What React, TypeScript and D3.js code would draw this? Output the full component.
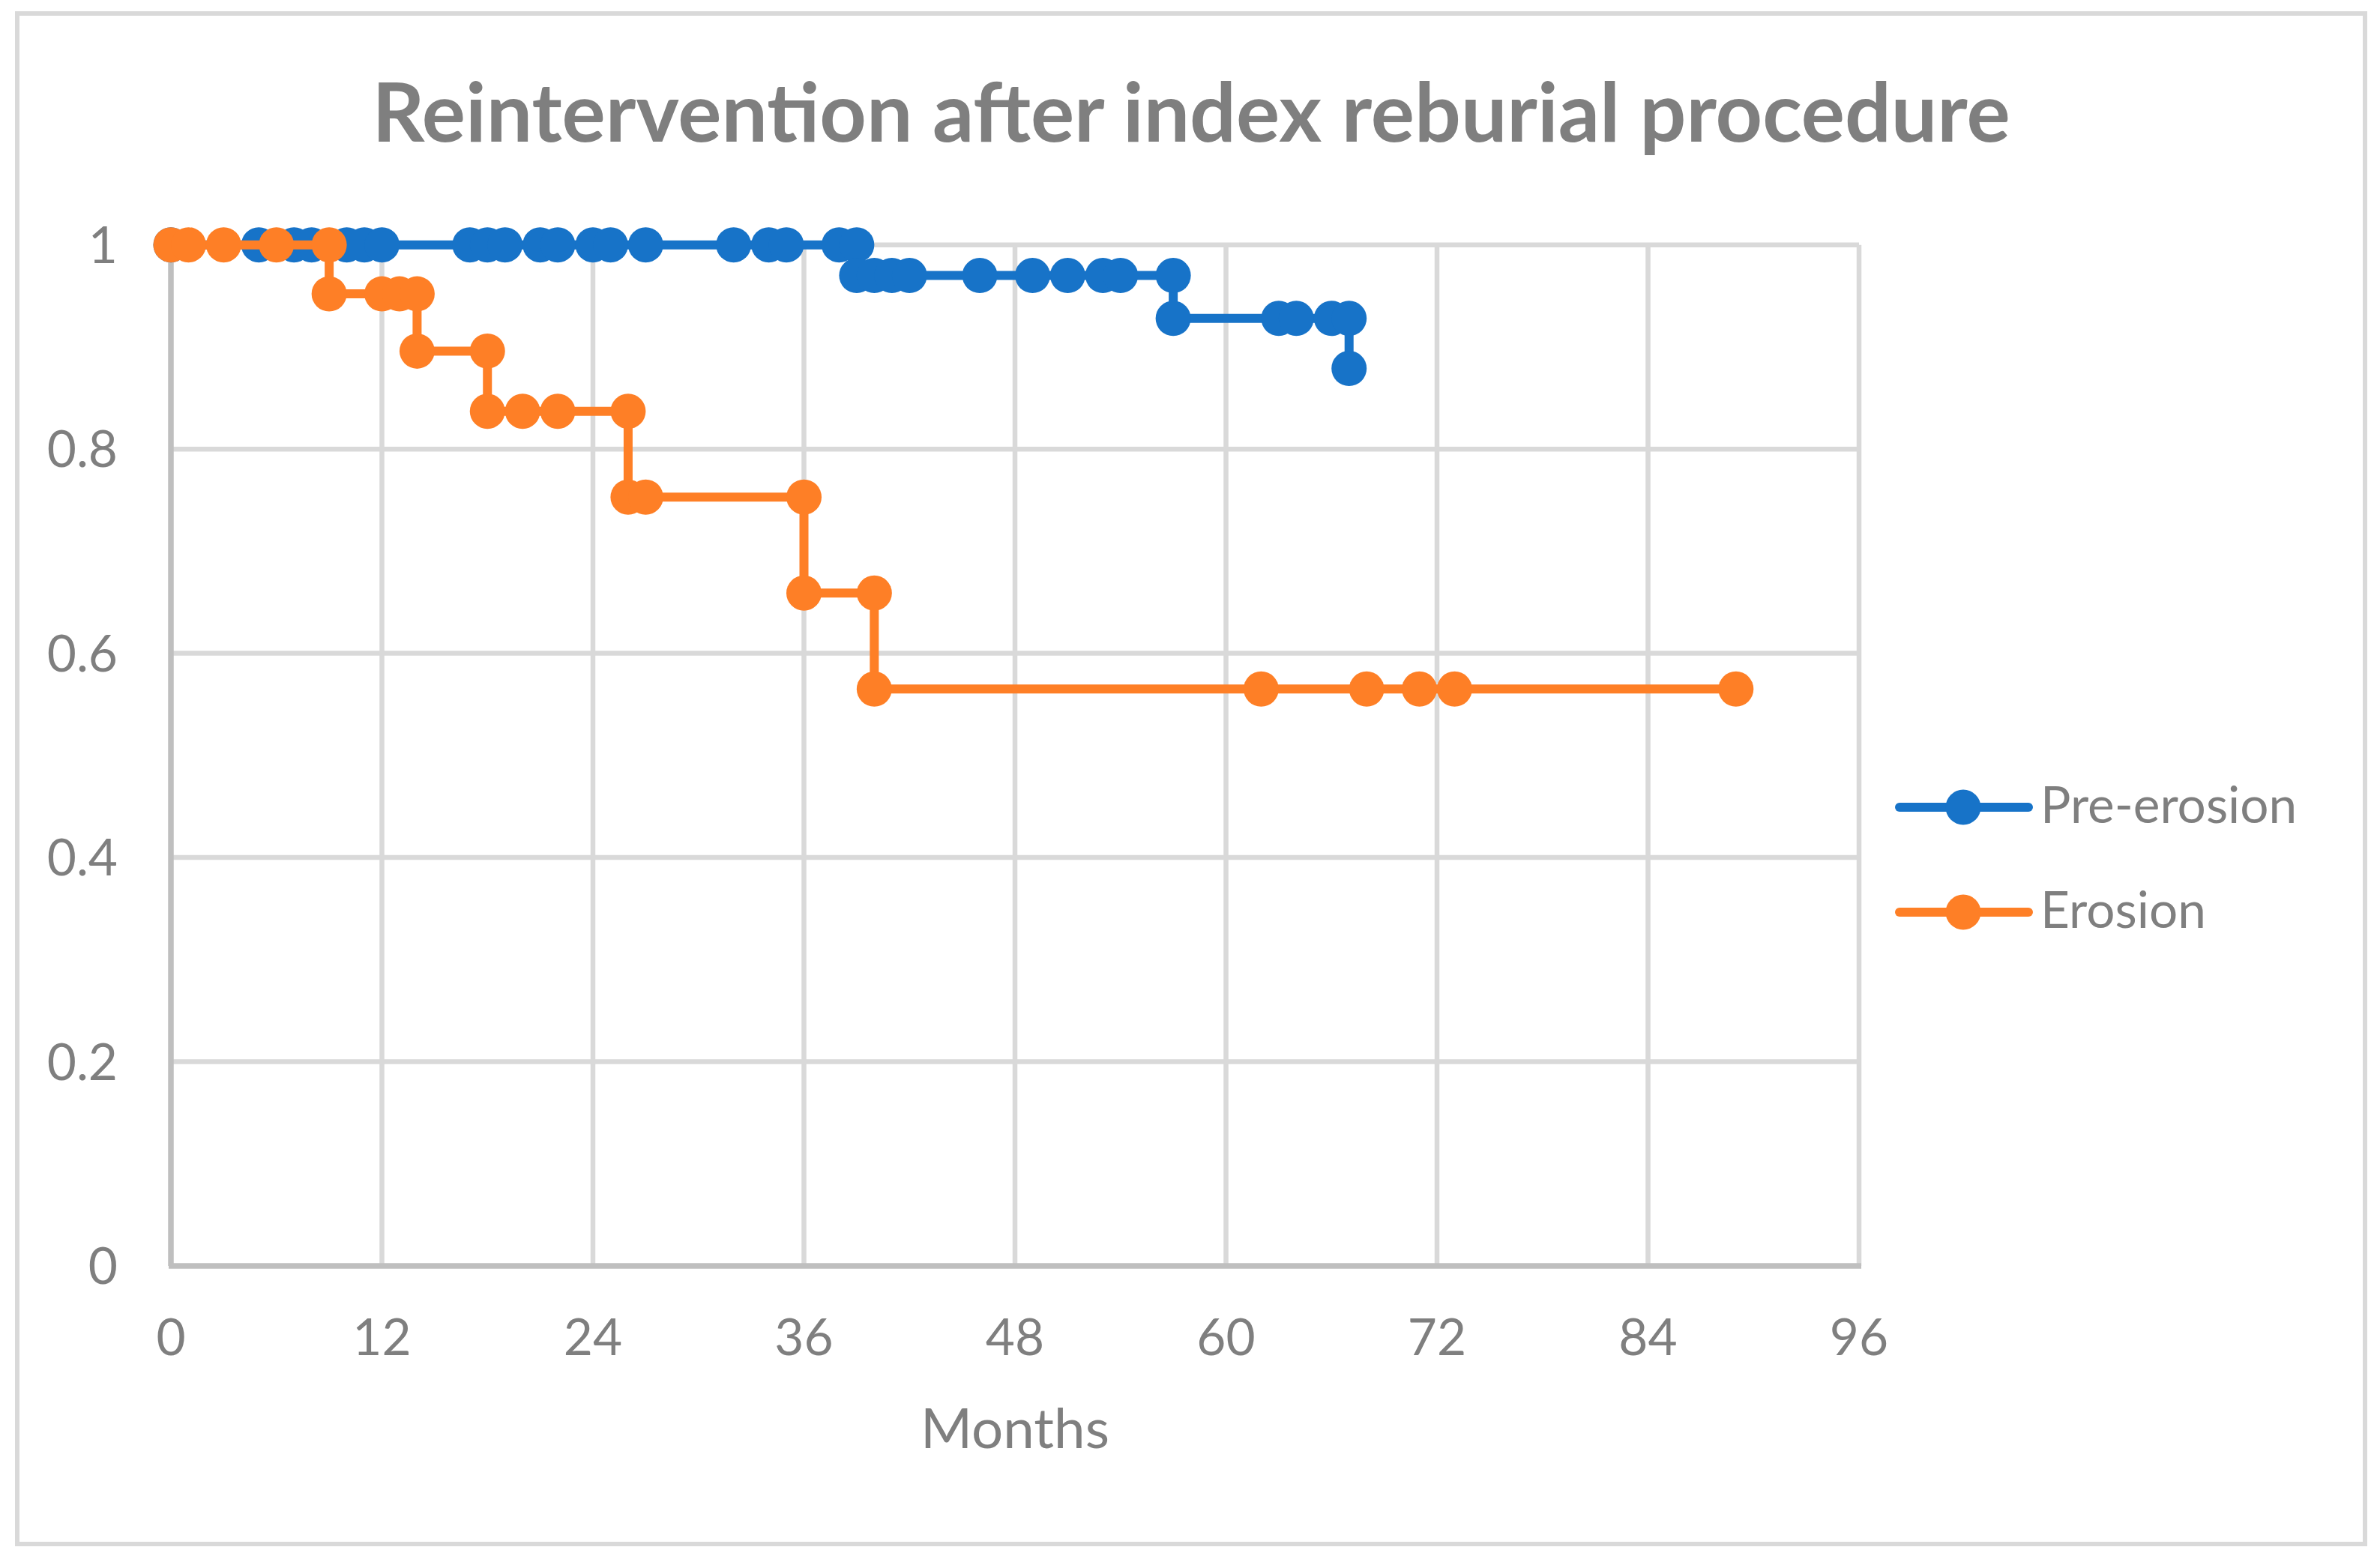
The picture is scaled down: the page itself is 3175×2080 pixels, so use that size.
import React from "react";
import * as d3 from "d3";

// ---- Data ----
const title = "Reintervention after index reburial procedure";
const xAxisTitle = "Months";
const xTicks = [0, 12, 24, 36, 48, 60, 72, 84, 96];
const yTicks = [0, 0.2, 0.4, 0.6, 0.8, 1];
const yTickLabels = ["0", "0.2", "0.4", "0.6", "0.8", "1"];

const seriesNames = ["Pre-erosion", "Erosion"];
const seriesColors = ["#1773C8", "#FE7F26"];

const preMonths = [0, 5, 7, 8, 10, 11, 12, 17, 18, 19, 21, 22, 24, 25, 27, 32, 34, 35, 38, 39,
  39, 40, 41, 42, 46, 49, 51, 53, 54, 57,
  57, 63, 64, 66, 67,
  67];
const preSurvival = [1, 1, 1, 1, 1, 1, 1, 1, 1, 1, 1, 1, 1, 1, 1, 1, 1, 1, 1, 1,
  0.970, 0.970, 0.970, 0.970, 0.970, 0.970, 0.970, 0.970, 0.970, 0.970,
  0.928, 0.928, 0.928, 0.928, 0.928,
  0.879];

const erosionMonths = [0, 1, 3, 6, 9,
  9, 12, 13, 14,
  14, 18,
  18, 20, 22, 26,
  26, 27, 36,
  36, 40,
  40, 62, 68, 71, 73, 89];
const erosionSurvival = [1, 1, 1, 1, 1,
  0.952, 0.952, 0.952, 0.952,
  0.896, 0.896,
  0.837, 0.837, 0.837, 0.837,
  0.753, 0.753, 0.753,
  0.659, 0.659,
  0.565, 0.565, 0.565, 0.565, 0.565, 0.565];

const W = 3175;
const H = 2080;
const FONT = "Lato, 'Open Sans', sans-serif";
const TEXT = "#7F7F7F";

export default function App() {
  const x = d3.scaleLinear().domain([0, 96]).range([228, 2480]);
  const y = d3.scaleLinear().domain([0, 1]).range([1689, 326.7]);

  const series = [
    { name: seriesNames[0], color: seriesColors[0], pts: preMonths.map((m, i) => [m, preSurvival[i]] as [number, number]) },
    { name: seriesNames[1], color: seriesColors[1], pts: erosionMonths.map((m, i) => [m, erosionSurvival[i]] as [number, number]) },
  ];
  const line = d3.line<[number, number]>().x((d) => x(d[0])).y((d) => y(d[1]));
  const r = 23.5;
  const lw = 12;

  const legendY = [1077, 1217];

  return (
    <svg width={W} height={H} style={{ position: "absolute", left: 0, top: 0, background: "#fff" }}>
      <rect x={0} y={0} width={W} height={H} fill="#fff" />
      <rect x={23} y={18} width={3132} height={2042} fill="#fff" stroke="#D9D9D9" strokeWidth={6} />
      <text x={1589} y={189} textAnchor="middle" fontFamily={FONT} fontWeight={700} fontSize={109} fill={TEXT}>
        {title}
      </text>

      {/* gridlines */}
      {yTicks.filter((t) => t > 0).map((t) => (
        <line key={"hy" + t} x1={x(0)} x2={x(96)} y1={y(t)} y2={y(t)} stroke="#D9D9D9" strokeWidth={6.5} />
      ))}
      {xTicks.filter((t) => t > 0).map((t) => (
        <line key={"vx" + t} x1={x(t)} x2={x(t)} y1={y(1)} y2={y(0)} stroke="#D9D9D9" strokeWidth={6.5} />
      ))}
      {/* axes */}
      <line x1={x(0)} x2={x(0)} y1={y(1)} y2={y(0)} stroke="#BFBFBF" strokeWidth={7.5} />
      <line x1={x(0) - 3} x2={x(96) + 3} y1={y(0)} y2={y(0)} stroke="#BFBFBF" strokeWidth={7.5} />

      {/* tick labels */}
      {yTicks.map((t, i) => (
        <text key={"yl" + t} x={157} y={y(t) + 24} textAnchor="end" fontFamily={FONT} fontSize={67.5} fill={TEXT}>
          {yTickLabels[i]}
        </text>
      ))}
      {xTicks.map((t) => (
        <text key={"xl" + t} x={x(t)} y={1808} textAnchor="middle" fontFamily={FONT} fontSize={67.5} fill={TEXT}>
          {String(t)}
        </text>
      ))}
      <text x={(x(0) + x(96)) / 2} y={1932} textAnchor="middle" fontFamily={FONT} fontSize={74.5} fill={TEXT}>
        {xAxisTitle}
      </text>

      {/* series */}
      {series.map((s) => (
        <g key={s.name}>
          <path d={line(s.pts) || ""} fill="none" stroke={s.color} strokeWidth={lw} strokeLinejoin="round" strokeLinecap="round" />
          {s.pts.map((p, i) => (
            <circle key={i} cx={x(p[0])} cy={y(p[1])} r={r} fill={s.color} />
          ))}
        </g>
      ))}

      {/* legend */}
      {series.map((s, i) => (
        <g key={"lg" + s.name}>
          <line x1={2534} x2={2706} y1={legendY[i]} y2={legendY[i]} stroke={s.color} strokeWidth={lw} strokeLinecap="round" />
          <circle cx={2619} cy={legendY[i]} r={r} fill={s.color} />
          <text x={2722} y={legendY[i] + 21} fontFamily={FONT} fontSize={67.5} fill={TEXT}>
            {s.name}
          </text>
        </g>
      ))}
    </svg>
  );
}
